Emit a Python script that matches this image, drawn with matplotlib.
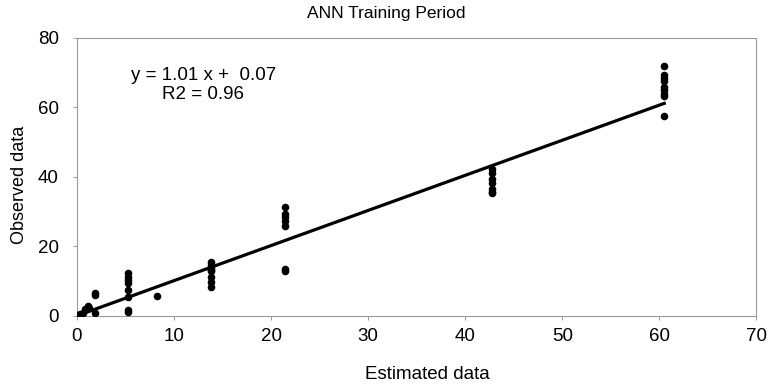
import numpy as np
import matplotlib
matplotlib.use("Agg")
import matplotlib.pyplot as plt

plt.rcParams['font.family'] = ['Liberation Sans', 'DejaVu Sans']

# Estimated vs observed values for the ANN training period
estimated = [0.1, 0.3, 0.6, 0.8, 1.1, 1.2, 1.9, 1.9, 1.9,
             5.3, 5.3, 5.3, 5.3, 5.3, 5.3, 5.3, 5.3,
             8.2,
             13.8, 13.8, 13.8, 13.8, 13.8, 13.8, 13.8, 13.8,
             21.4, 21.4, 21.4, 21.4, 21.4, 21.4, 21.4,
             42.8, 42.8, 42.8, 42.8, 42.8, 42.8, 42.8,
             60.5, 60.5, 60.5, 60.5, 60.5, 60.5, 60.5, 60.5, 60.5]
observed = [0.3, 0.6, 0.9, 2.0, 2.9, 2.2, 6.1, 6.6, 0.9,
            12.5, 11.3, 10.4, 9.6, 7.5, 5.5, 1.7, 1.2,
            5.8,
            15.4, 14.8, 13.9, 13.3, 12.8, 11.3, 9.9, 8.4,
            31.3, 29.3, 28.4, 27.2, 25.8, 13.4, 12.8,
            42.3, 41.0, 39.4, 38.2, 36.6, 35.8, 35.3,
            71.9, 69.3, 68.4, 67.5, 66.0, 65.0, 64.0, 63.2, 57.4]

slope = 1.01
intercept = 0.07
r2 = 0.96

x_ticks = [0, 10, 20, 30, 40, 50, 60, 70]
y_ticks = [0, 20, 40, 60, 80]

fig = plt.figure(figsize=(7.73, 3.87), dpi=100)
ax = fig.add_axes([0.0996, 0.1835, 0.879, 0.7185])

ax.scatter(estimated, observed, s=30, color='black', zorder=3, linewidths=0)

fit_x = np.array([0, max(estimated)])
ax.plot(fit_x, slope * fit_x + intercept, color='black', lw=2.3, zorder=2)

ax.set_xlim(0, 70)
ax.set_ylim(0, 80)
ax.set_xticks(x_ticks)
ax.set_yticks(y_ticks)
ax.tick_params(direction='out', length=3, width=0.6, color='#888888',
               labelsize=13.5)
ax.tick_params(axis='y', pad=10)
ax.tick_params(axis='x', pad=6)

for side in ['left', 'right', 'top', 'bottom']:
    ax.spines[side].set_color('#999999')
    ax.spines[side].set_linewidth(0.8)

ax.set_xlabel('Estimated data', fontsize=13.5, va='center')
ax.xaxis.set_label_coords(0.516, -0.21)
ax.set_ylabel('Observed data', fontsize=13, va='center')
ax.yaxis.set_label_coords(-0.084, 0.47)
fig.text(0.5, 0.965, 'ANN Training Period', fontsize=12.5,
         ha='center', va='center')

ax.text(13.0, 66.5, f'y = {slope:.2f} x +  {intercept:.2f}\nR2 = {r2:.2f}',
        ha='center', va='center', multialignment='center',
        fontsize=13.5, linespacing=1.2)

fig.savefig('out.png', dpi=100)
